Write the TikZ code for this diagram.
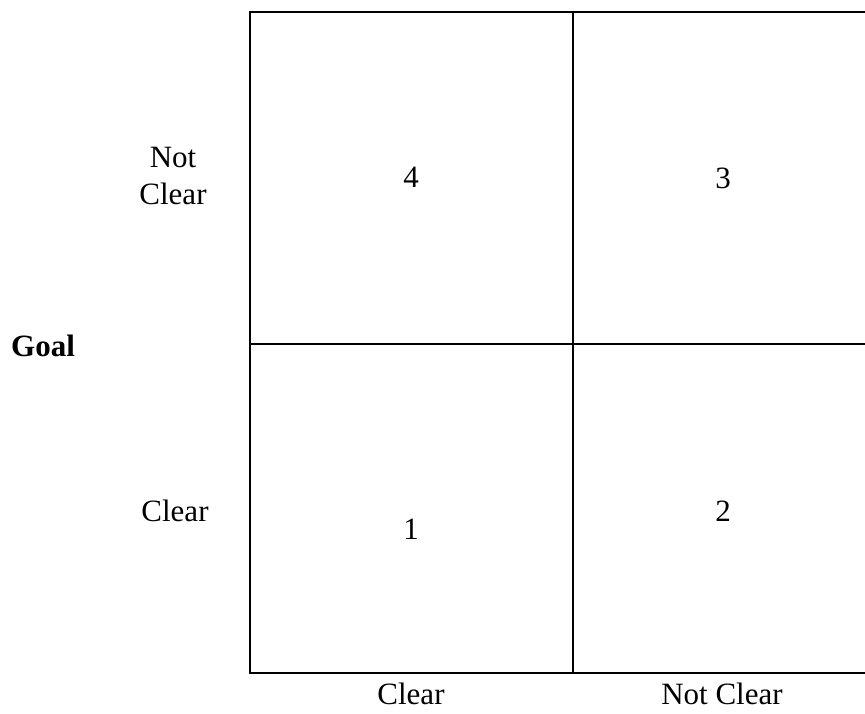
\documentclass[tikz,border=0pt]{standalone}
\usepackage{fontspec}
\setmainfont{Liberation Serif}
\usepackage{tikz}

\begin{document}
\begin{tikzpicture}[x=1pt, y=1pt,
    lbl/.style={font=\fontsize{31}{37}\selectfont, anchor=base, inner sep=0pt, align=center},
    frame/.style={draw=black, line width=2pt},
    divide/.style={draw=black, line width=1.2pt}
  ]
  \useasboundingbox (0,0) rectangle (865,714);
  \begin{scope}
    \clip (0,0) rectangle (865,714);
    \draw[frame] (250,41) rectangle (873,702);
    \draw[divide, line width=1.8pt] (250,370) -- (873,370);
    \draw[divide] (573,41) -- (573,702);
  \end{scope}

  % cell numbers
  \node[lbl] (c4) at (411,526) {4};
  \node[lbl] (c3) at (723,525) {3};
  \node[lbl] (c1) at (411,174) {1};
  \node[lbl] (c2) at (723,192) {2};

  % row labels
  \node[lbl, anchor=center] (notclear) at (173,538) {Not\\Clear};
  \node[lbl] (clearrow) at (175,192) {Clear};
  \node[lbl, font=\fontsize{31}{37}\selectfont\bfseries] (goal) at (43,357) {Goal};

  % column labels
  \node[lbl] (clearcol) at (411,9) {Clear};
  \node[lbl] (notclearcol) at (722,9) {Not Clear};
\end{tikzpicture}
\end{document}
